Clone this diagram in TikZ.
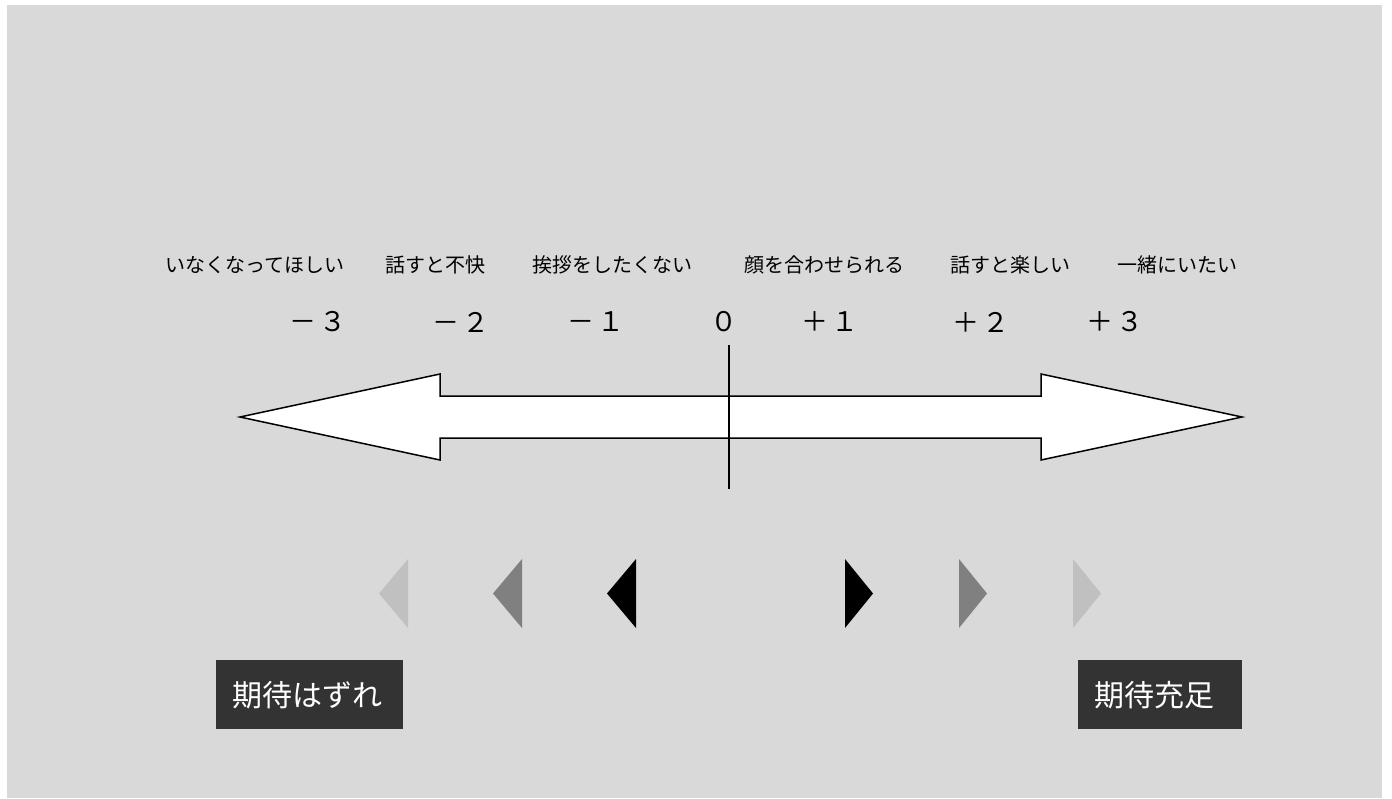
\documentclass[tikz,border=0pt]{standalone}
\usepackage{fontspec}
\newfontfamily\jp{Noto Sans CJK JP}
\definecolor{bggray}{HTML}{D9D9D9}
\definecolor{boxgray}{HTML}{333333}
\definecolor{lightgray}{HTML}{C0C0C0}
\definecolor{midgray}{HTML}{808080}
\newcommand{\sgn}[2]{#1\hspace{3pt}#2}
\tikzset{
  lbl/.style={font=\jp\fontsize{20}{22}\selectfont, inner sep=0pt},
  num/.style={font=\jp\fontsize{27}{28}\selectfont, inner sep=0pt},
  endbox/.style={fill=boxgray, text=white, anchor=north west, inner xsep=16pt,
    minimum height=69pt, align=left, font=\jp\fontsize{30}{30}\selectfont}
}

\begin{document}
\begin{tikzpicture}[x=1pt,y=-1pt]
\useasboundingbox (0,0) rectangle (1392,798);
\fill[bggray] (7,5) rectangle (1382,798);

% scale labels
\node[lbl] (away) at (255,265) {いなくなってほしい};
\node[lbl] (unpleasant) at (435,265) {話すと不快};
\node[lbl] (nogreet) at (612,265) {挨拶をしたくない};
\node[lbl] (face) at (824,265) {顔を合わせられる};
\node[lbl] (fun) at (1010,265) {話すと楽しい};
\node[lbl] (together) at (1177,265) {一緒にいたい};

% scale values
\node[num] (m3) at (318,322) {\sgn{－}{３}};
\node[num] (m2) at (461,322) {\sgn{－}{２}};
\node[num] (m1) at (596,322) {\sgn{－}{１}};
\node[num] (zero) at (724,322) {０};
\node[num] (p1) at (830,322) {\sgn{＋}{１}};
\node[num] (p2) at (981,322) {\sgn{＋}{２}};
\node[num] (p3) at (1115,322) {\sgn{＋}{３}};

% double arrow
\draw[line width=1.5pt, fill=white] (240,417) -- (440,374) -- (440,396) -- (1041,396)
  -- (1041,374) -- (1242,417) -- (1041,460) -- (1041,438) -- (440,438)
  -- (440,460) -- cycle;
\coordinate (axistop) at (729,345);
\coordinate (axisbot) at (729,489);
\draw[line width=1.5pt] (axistop) -- (axisbot);

% direction marks
\foreach \x/\c in {408/lightgray, 522/midgray, 636/black}
  \fill[\c] (\x,559) -- (\x-29,593.5) -- (\x,628) -- cycle;
\foreach \x/\c in {845/black, 959/midgray, 1073/lightgray}
  \fill[\c] (\x,559) -- (\x+28,593.5) -- (\x,628) -- cycle;

% end labels
\node[endbox, text width=155pt] (letdown) at (216,660) {期待はずれ};
\node[endbox, text width=132pt] (fulfil) at (1078,660) {期待充足};
\end{tikzpicture}
\end{document}
